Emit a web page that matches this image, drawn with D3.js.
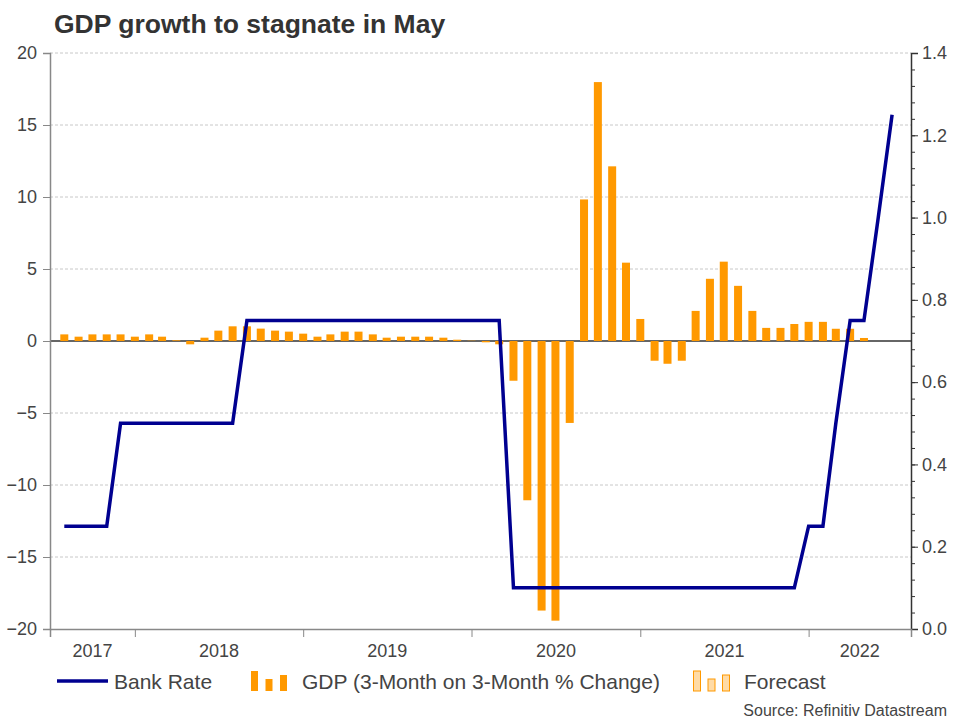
<!DOCTYPE html>
<html lang="en">
<head>
    <meta charset="UTF-8">
    <title>GDP growth to stagnate in May</title>
    <script src="https://cdn.jsdelivr.net/npm/d3@7/dist/d3.min.js"></script>
    <style>
        body {
            margin: 0;
            background-color: #ffffff;
            font-family: "Liberation Sans", Arial, sans-serif;
        }
        svg text {
            fill: #444;
        }
    </style>
</head>
<body>
    <svg id="chart" width="960" height="720"></svg>

    <script>
        // ---- data ----
        // first month of both series, one value per month
        let firstMonth = "2017-07";

        // GDP, 3-month on 3-month % change, Jul 2017 .. May 2022
        let gdp = [
            0.46, 0.30, 0.46, 0.46, 0.46, 0.30,
            0.46, 0.30, 0.05, -0.23, 0.23, 0.72, 1.02, 1.02, 0.86, 0.72, 0.65, 0.51,
            0.30, 0.46, 0.65, 0.65, 0.46, 0.23, 0.30, 0.30, 0.30, 0.23, 0.09, 0.02,
            -0.09, -0.23, -2.76, -11.06, -18.72, -19.42, -5.69, 9.83, 17.98, 12.13, 5.44, 1.53,
            -1.37, -1.58, -1.37, 2.09, 4.32, 5.51, 3.83, 2.09, 0.91, 0.91, 1.18, 1.33,
            1.33, 0.85, 0.85, 0.21, 0.0
        ];
        // months shown as forecast
        let forecastMonths = ["2022-05"];

        // Bank Rate %, Jul 2017 .. Jun 2022
        let bankRate = [
            0.25, 0.25, 0.25, 0.25, 0.5, 0.5,
            0.5, 0.5, 0.5, 0.5, 0.5, 0.5, 0.5, 0.75, 0.75, 0.75, 0.75, 0.75,
            0.75, 0.75, 0.75, 0.75, 0.75, 0.75, 0.75, 0.75, 0.75, 0.75, 0.75, 0.75,
            0.75, 0.75, 0.1, 0.1, 0.1, 0.1, 0.1, 0.1, 0.1, 0.1, 0.1, 0.1,
            0.1, 0.1, 0.1, 0.1, 0.1, 0.1, 0.1, 0.1, 0.1, 0.1, 0.1, 0.25,
            0.25, 0.5, 0.75, 0.75, 1.0, 1.25
        ];

        let leftTicks = [-20, -15, -10, -5, 0, 5, 10, 15, 20];
        let rightTicks = [0, 0.2, 0.4, 0.6, 0.8, 1.0, 1.2, 1.4];
        let yearLabels = ["2017", "2018", "2019", "2020", "2021", "2022"];

        let title = "GDP growth to stagnate in May";
        let source = "Source: Refinitiv Datastream";
        let legendNames = ["Bank Rate", "GDP (3-Month on 3-Month % Change)", "Forecast"];

        // ---- layout ----
        let plotLeft = 50, plotRight = 911, plotTop = 53, plotBottom = 629;
        let orange = "#ff9900", lightOrange = "#ffdba6", navy = "#000090";
        let fontStack = "'Liberation Sans', Arial, sans-serif";

        let parseMonth = d3.timeParse("%Y-%m");
        let start = parseMonth(firstMonth);
        // values are dated at the end of their month
        function monthEnd(i) { return d3.timeMonth.offset(start, i + 1); }
        let forecastSet = new Set(forecastMonths.map(m => +parseMonth(m)));

        let bars = gdp.map((v, i) => ({
            date: monthEnd(i),
            value: v,
            forecast: forecastSet.has(+d3.timeMonth.offset(start, i))
        }));
        let rate = bankRate.map((v, i) => ({date: monthEnd(i), value: v}));

        let x = d3.scaleTime()
            .domain([new Date(2017, 6, 1), new Date(2022, 7, 11)])
            .range([plotLeft, plotRight]);
        let y = d3.scaleLinear().domain([-20, 20]).range([plotBottom, plotTop]);
        let y2 = d3.scaleLinear().domain([0, 1.4]).range([plotBottom, plotTop]);

        let svg = d3.select("#chart");

        // title
        svg.append("text")
            .attr("x", 54).attr("y", 33)
            .style("font-size", "26.5px")
            .style("font-weight", "bold")
            .style("fill", "#333")
            .text(title);

        // grid
        svg.append("g")
            .selectAll("line")
            .data(leftTicks.filter(d => d !== 0 && d !== -20))
            .enter()
            .append("line")
            .attr("x1", plotLeft).attr("x2", plotRight)
            .attr("y1", d => y(d)).attr("y2", d => y(d))
            .attr("stroke", "#c8c8c8")
            .attr("stroke-width", 1)
            .attr("stroke-dasharray", "3,2");

        // zero line
        svg.append("line")
            .attr("x1", plotLeft).attr("x2", plotRight)
            .attr("y1", y(0)).attr("y2", y(0))
            .attr("stroke", "#333")
            .attr("stroke-width", 1.5);

        // GDP bars
        let barW = 8;
        svg.append("g")
            .selectAll("rect")
            .data(bars)
            .enter()
            .append("rect")
            .attr("x", d => x(d.date) - barW / 2)
            .attr("width", barW)
            .attr("y", d => y(Math.max(0, d.value)))
            .attr("height", d => Math.abs(y(d.value) - y(0)))
            .attr("fill", d => d.forecast ? lightOrange : orange)
            .attr("stroke", d => d.forecast ? orange : "none")
            .attr("stroke-width", 1);

        // Bank Rate line
        let line = d3.line()
            .x(d => x(d.date))
            .y(d => y2(d.value));
        svg.append("path")
            .datum(rate)
            .attr("d", line)
            .attr("fill", "none")
            .attr("stroke", navy)
            .attr("stroke-width", 3.5)
            .attr("stroke-linejoin", "miter");

        // left axis
        let leftAxis = d3.axisLeft(y).tickValues(leftTicks).tickSize(7).tickPadding(6);
        let gl = svg.append("g")
            .attr("transform", `translate(${plotLeft},0)`)
            .call(leftAxis);
        gl.select(".domain").attr("stroke", "#888").attr("stroke-width", 1.5);
        gl.selectAll(".tick line").attr("stroke", "#888");
        gl.selectAll(".tick text")
            .style("font-size", "18px")
            .style("font-family", fontStack)
            .attr("fill", "#444");

        // right axis: minor ticks every 0.04, major every 0.2
        let minor = d3.range(0, 1.4001, 0.04);
        let gm = svg.append("g")
            .attr("transform", `translate(${plotRight},0)`)
            .call(d3.axisRight(y2).tickValues(minor).tickSize(4).tickFormat(""));
        gm.select(".domain").remove();
        gm.selectAll(".tick line").attr("stroke", "#333");

        let gr = svg.append("g")
            .attr("transform", `translate(${plotRight},0)`)
            .call(d3.axisRight(y2).tickValues(rightTicks).tickSize(7).tickPadding(4)
                .tickFormat(d3.format(".1f")));
        gr.select(".domain").attr("stroke", "#333").attr("stroke-width", 1.5);
        gr.selectAll(".tick line").attr("stroke", "#333");
        gr.selectAll(".tick text")
            .style("font-size", "18px")
            .style("font-family", fontStack)
            .attr("fill", "#444");

        // bottom axis
        let yearStarts = yearLabels.slice(1).map(yr => new Date(+yr, 0, 1));
        let gb = svg.append("g")
            .attr("transform", `translate(0,${plotBottom})`)
            .call(d3.axisBottom(x).tickValues(yearStarts).tickSize(8).tickFormat(""));
        gb.select(".domain").attr("stroke", "#888").attr("stroke-width", 1.5);
        gb.selectAll(".tick line").attr("stroke", "#888");

        let [d0, d1] = x.domain();
        svg.append("g")
            .selectAll("text")
            .data(yearLabels)
            .enter()
            .append("text")
            .attr("x", yr => {
                let a = new Date(Math.max(+new Date(+yr, 0, 1), +d0));
                let b = new Date(Math.min(+new Date(+yr + 1, 0, 1), +d1));
                return (x(a) + x(b)) / 2;
            })
            .attr("y", 657)
            .attr("text-anchor", "middle")
            .style("font-size", "18px")
            .text(yr => yr);

        // legend
        let lg = svg.append("g");
        let ly = 681;
        lg.append("line")
            .attr("x1", 57).attr("x2", 108)
            .attr("y1", ly).attr("y2", ly)
            .attr("stroke", navy).attr("stroke-width", 3.5);
        lg.append("text").attr("x", 114).attr("y", ly + 7.5)
            .style("font-size", "21px").text(legendNames[0]);

        let iconH = [20, 12, 16];
        function barIcon(x0, fill, stroke) {
            lg.selectAll(null)
                .data(iconH)
                .enter()
                .append("rect")
                .attr("x", (h, i) => x0 + i * 14.5)
                .attr("y", h => ly + 10 - h)
                .attr("width", 7)
                .attr("height", h => h)
                .attr("fill", fill)
                .attr("stroke", stroke);
        }
        barIcon(251, orange, "none");
        lg.append("text").attr("x", 302).attr("y", ly + 7.5)
            .style("font-size", "21px").text(legendNames[1]);
        barIcon(693.5, lightOrange, orange);
        lg.append("text").attr("x", 744).attr("y", ly + 7.5)
            .style("font-size", "21px").text(legendNames[2]);

        // source
        svg.append("text")
            .attr("x", 947).attr("y", 716)
            .attr("text-anchor", "end")
            .style("font-size", "16px")
            .text(source);
    </script>
</body>
</html>
